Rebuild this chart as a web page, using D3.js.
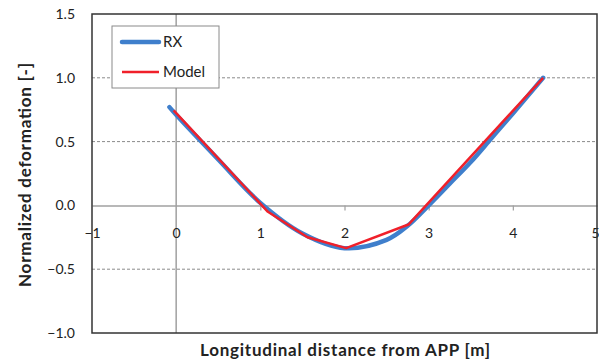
<!DOCTYPE html>
<html>
<head>
<meta charset="utf-8">
<script src="https://cdn.jsdelivr.net/npm/d3@7"></script>
<style>
  html, body { margin: 0; padding: 0; background: #fff; }
  svg { display: block; }
  text { font-family: Lato, "Open Sans", sans-serif; fill: #222; }
</style>
</head>
<body>
<svg id="chart" width="599" height="361"></svg>
<script>
// Measured hull deformation (RX) and model prediction along the ship
const rxX = [-0.08, 0.0, 0.5, 1.0, 1.5, 2.0, 2.5, 2.75, 3.0, 3.25, 3.5, 3.75, 4.0, 4.36];
const rxY = [0.77, 0.71, 0.36, 0.02, -0.22, -0.335, -0.27, -0.16, 0.0, 0.17, 0.34, 0.53, 0.72, 1.0];
const modelX = [-0.03, 1.09, 1.56, 2.02, 2.76, 4.36];
const modelY = [0.745, -0.05, -0.25, -0.335, -0.15, 1.0];
const xTicks = [-1, 0, 1, 2, 3, 4, 5];
const yTicks = [-1.0, -0.5, 0.0, 0.5, 1.0, 1.5];
const yGrid = [-0.5, 0.5, 1.0];
const seriesNames = ["RX", "Model"];

const svg = d3.select("#chart");
const plotL = 92, plotR = 597, plotT = 14, plotB = 333;

const x = d3.scaleLinear().domain([-1, 5]).range([plotL, plotR]);
const y = d3.scaleLinear().domain([-1, 1.5]).range([plotB, plotT]);

// dashed horizontal gridlines
svg.append("g").selectAll("line").data(yGrid).join("line")
  .attr("x1", plotL).attr("x2", plotR)
  .attr("y1", d => y(d)).attr("y2", d => y(d))
  .attr("stroke", "#8a8a8a").attr("stroke-width", 1)
  .attr("stroke-dasharray", "3,2");

// vertical axis at x = 0
svg.append("line")
  .attr("x1", x(0)).attr("x2", x(0)).attr("y1", plotT).attr("y2", plotB)
  .attr("stroke", "#a0a0a0").attr("stroke-width", 1.5);

// horizontal axis at y = 0 with tick marks and labels
const xAxis = d3.axisBottom(x).tickValues(xTicks).tickSize(5).tickSizeOuter(0)
  .tickFormat(d3.format("d"));
const gx = svg.append("g").attr("transform", `translate(0,${y(0)})`).call(xAxis);
gx.select(".domain").attr("stroke", "#a0a0a0").attr("stroke-width", 1.5);
gx.selectAll(".tick line").attr("stroke", "#a0a0a0").attr("stroke-width", 1.2);
gx.selectAll(".tick text").attr("y", 23).attr("font-size", 14)
  .attr("font-family", "Lato, sans-serif").attr("fill", "#222");
gx.selectAll(".tick").filter(d => d === 0 || d === -1 || d === 5).select("line").remove();
// last label sits against the right edge
gx.selectAll(".tick").filter(d => d === 5).select("text")
  .attr("text-anchor", "end").attr("x", 2);

// y tick labels on the left border
const yAxis = d3.axisLeft(y).tickValues(yTicks).tickSize(0).tickFormat(d3.format(".1f"));
const gy = svg.append("g").attr("transform", `translate(${plotL},0)`).call(yAxis);
gy.select(".domain").remove();
gy.selectAll(".tick text").attr("x", -17).attr("font-size", 14)
  .attr("font-family", "Lato, sans-serif").attr("fill", "#222");

// plot frame
svg.append("rect")
  .attr("x", plotL).attr("y", plotT).attr("width", plotR - plotL).attr("height", plotB - plotT)
  .attr("fill", "none").attr("stroke", "#333").attr("stroke-width", 1.5);

// series
const rxData = rxX.map((v, i) => [v, rxY[i]]);
const modelData = modelX.map((v, i) => [v, modelY[i]]);

svg.append("path").datum(rxData)
  .attr("d", d3.line().x(d => x(d[0])).y(d => y(d[1])).curve(d3.curveCatmullRom.alpha(0.5)))
  .attr("fill", "none").attr("stroke", "#3f7fcc").attr("stroke-width", 4.5)
  .attr("stroke-linecap", "round").attr("stroke-linejoin", "round");

svg.append("path").datum(modelData)
  .attr("d", d3.line().x(d => x(d[0])).y(d => y(d[1])))
  .attr("fill", "none").attr("stroke", "#f0202a").attr("stroke-width", 2.5)
  .attr("stroke-linejoin", "round");

// legend
const lg = svg.append("g");
lg.append("rect").attr("x", 112).attr("y", 26).attr("width", 107).attr("height", 62)
  .attr("fill", "#fff").attr("stroke", "#8a8a8a").attr("stroke-width", 1);
const legendStyles = [
  { color: "#3f7fcc", width: 4.5 },
  { color: "#f0202a", width: 2.5 }
];
seriesNames.forEach((name, i) => {
  const ly = 42 + i * 30;
  lg.append("line").attr("x1", 122).attr("x2", 159).attr("y1", ly).attr("y2", ly)
    .attr("stroke", legendStyles[i].color).attr("stroke-width", legendStyles[i].width)
    .attr("stroke-linecap", i === 0 ? "round" : "butt");
  lg.append("text").attr("x", 163).attr("y", ly + 5).attr("font-size", 15).text(name);
});

// axis titles
svg.append("text")
  .attr("x", 345).attr("y", 356).attr("text-anchor", "middle")
  .attr("font-size", 17).attr("font-weight", "bold").attr("fill", "#000")
  .attr("textLength", 290).attr("lengthAdjust", "spacing")
  .text("Longitudinal distance from APP  [m]");

svg.append("text")
  .attr("transform", "translate(31,175) rotate(-90)")
  .attr("text-anchor", "middle")
  .attr("font-size", 17).attr("font-weight", "bold").attr("fill", "#000")
  .attr("textLength", 224).attr("lengthAdjust", "spacing")
  .text("Normalized deformation  [-]");
</script>
</body>
</html>
